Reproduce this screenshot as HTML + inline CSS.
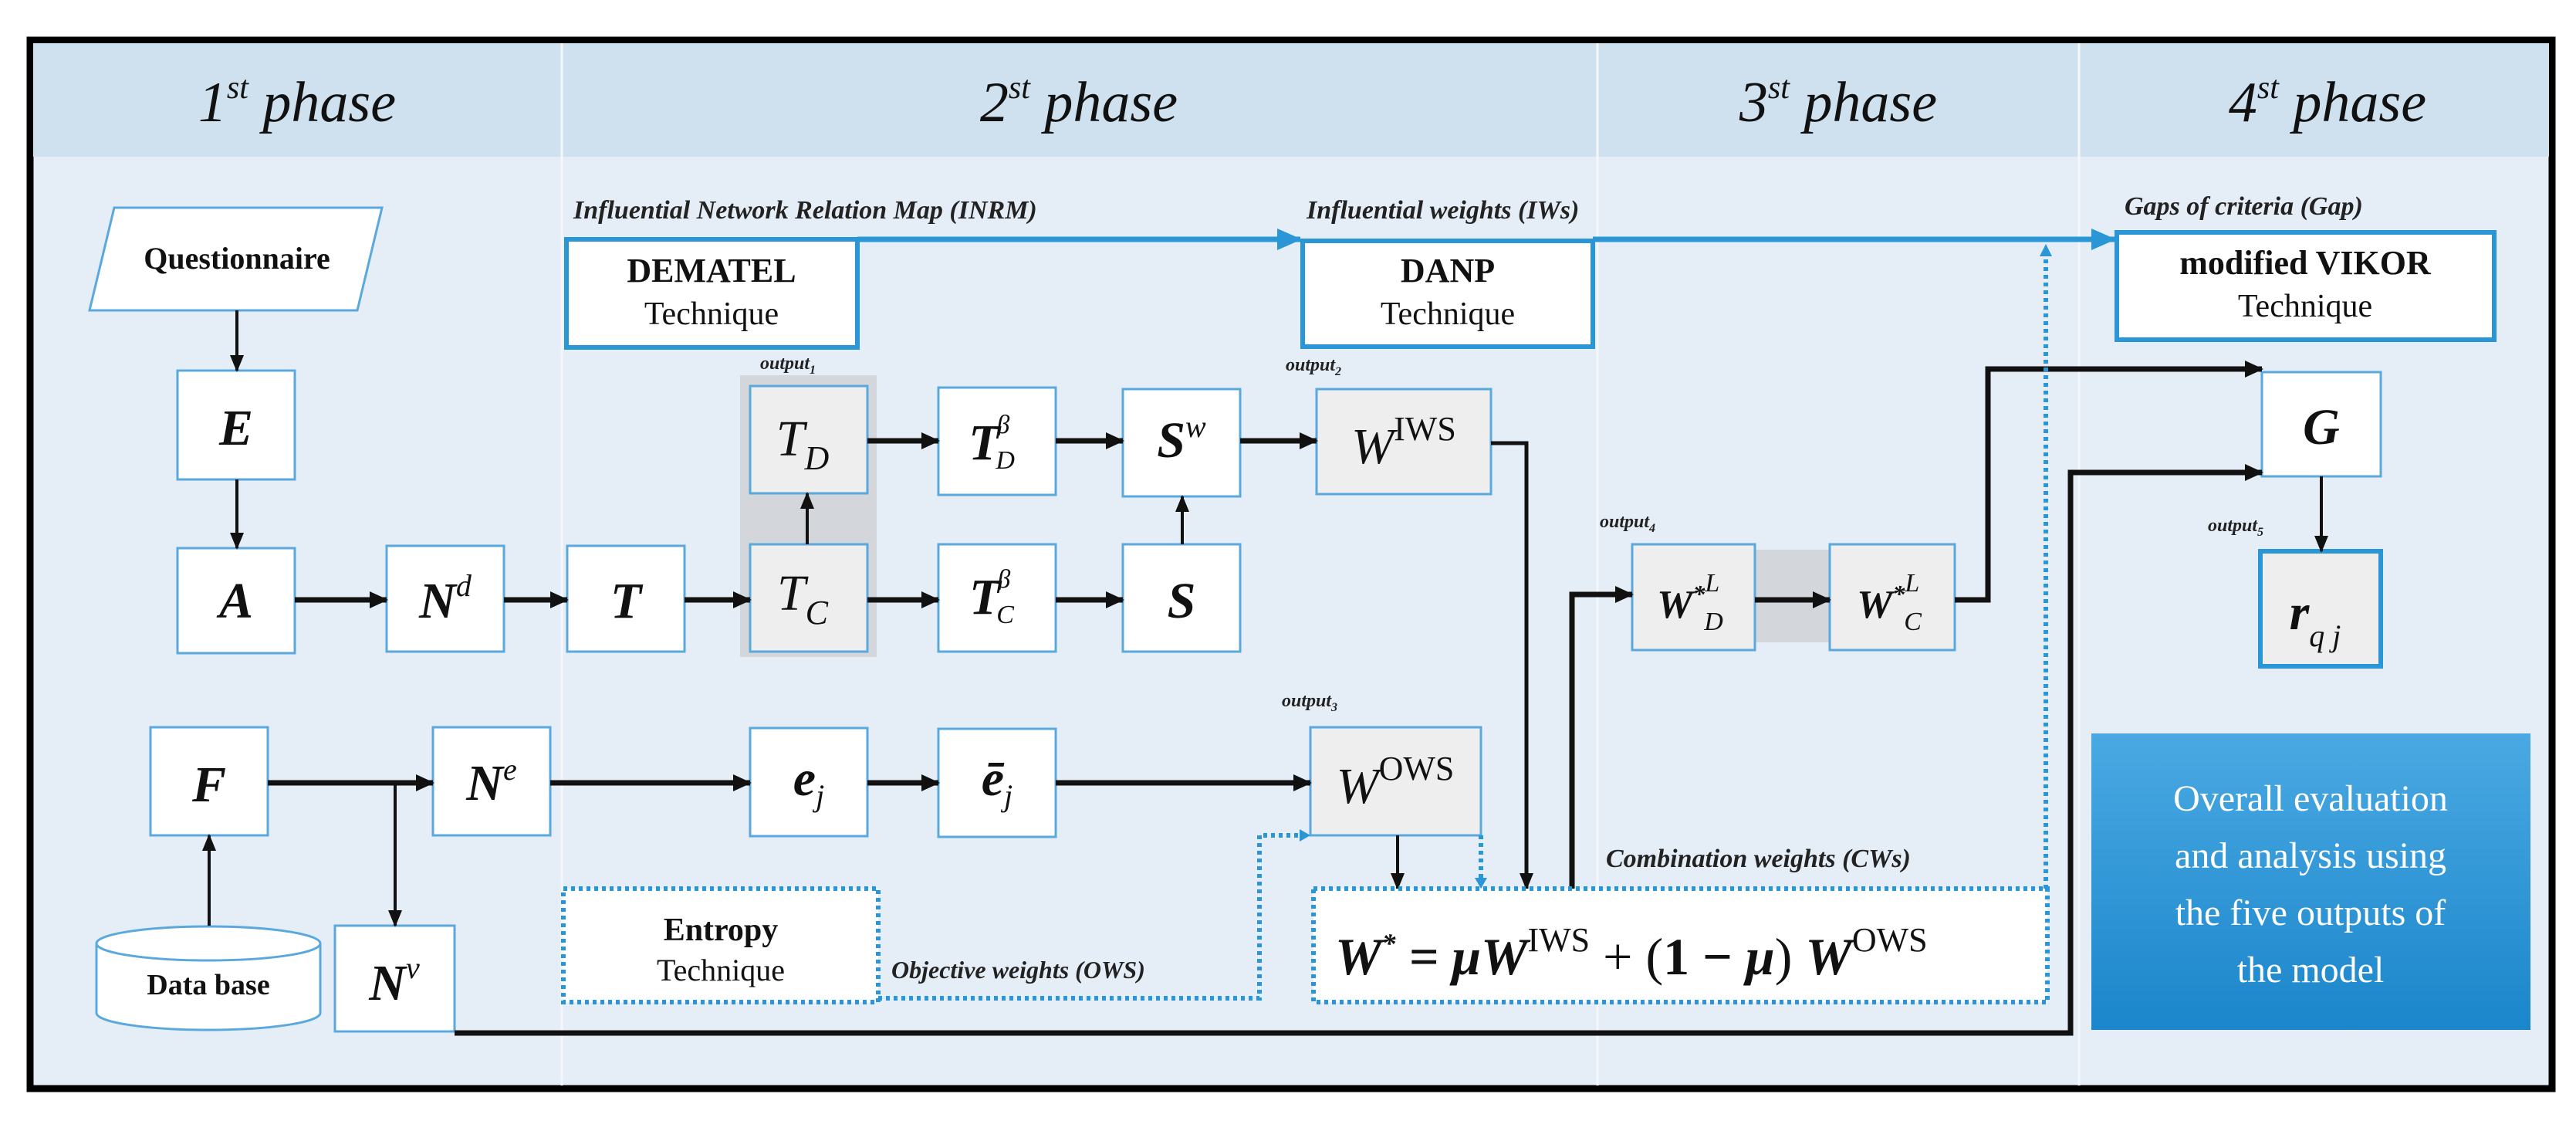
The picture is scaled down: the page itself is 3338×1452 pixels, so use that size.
<!DOCTYPE html>
<html><head><meta charset="utf-8"><style>
html,body{margin:0;padding:0;background:#fff;}
svg{display:block;}
text{font-family:"Liberation Serif",serif;}
.m{font-style:italic;font-weight:bold;fill:#111;}
.lab{font-style:italic;font-weight:bold;fill:#222;}
</style></head><body>
<svg width="3338" height="1452" viewBox="0 0 3338 1452" xmlns="http://www.w3.org/2000/svg">
<defs>
<marker id="ab" markerWidth="24" markerHeight="22" refX="22" refY="11" orient="auto" markerUnits="userSpaceOnUse"><path d="M0,0 L24,11 L0,22 Z" fill="#111"/></marker>
<marker id="ab2" markerWidth="22" markerHeight="22" refX="20" refY="11" orient="auto" markerUnits="userSpaceOnUse"><path d="M0,2 L22,11 L0,20 Z" fill="#111"/></marker>
<marker id="abl" markerWidth="32" markerHeight="28" refX="30" refY="14" orient="auto" markerUnits="userSpaceOnUse"><path d="M0,0 L32,14 L0,28 Z" fill="#2a96d6"/></marker>
<linearGradient id="bg" x1="0" y1="0" x2="0" y2="1"><stop offset="0" stop-color="#4aa9e2"/><stop offset="1" stop-color="#1b86cb"/></linearGradient>
</defs>
<rect x="0" y="0" width="3338" height="1452" fill="#fff"/>
<rect x="39" y="52" width="3268" height="1358" fill="#e5edf6" stroke="#000" stroke-width="9"/>
<rect x="43" y="56" width="3260" height="147" fill="#cfe0ee"/>
<line x1="728" y1="56" x2="728" y2="1406" stroke="#f4f7fb" stroke-width="3"/>
<line x1="2070" y1="56" x2="2070" y2="1406" stroke="#f4f7fb" stroke-width="3"/>
<line x1="2694" y1="56" x2="2694" y2="1406" stroke="#f4f7fb" stroke-width="3"/>
<g font-size="74" font-style="italic" fill="#111" text-anchor="middle">
<text x="385" y="157">1<tspan font-size="42" dy="-30">st</tspan><tspan dy="30"> phase</tspan></text>
<text x="1398" y="157">2<tspan font-size="42" dy="-30">st</tspan><tspan dy="30"> phase</tspan></text>
<text x="2382" y="157">3<tspan font-size="42" dy="-30">st</tspan><tspan dy="30"> phase</tspan></text>
<text x="3016" y="157">4<tspan font-size="42" dy="-30">st</tspan><tspan dy="30"> phase</tspan></text>
</g>
<g font-size="34" class="lab">
<text x="743" y="283">Influential Network Relation Map (INRM)</text>
<text x="1693" y="283">Influential weights (IWs)</text>
<text x="2753" y="278">Gaps of criteria (Gap)</text>
</g>
<line x1="1111" y1="310" x2="1685" y2="310" stroke="#2a96d6" stroke-width="7" marker-end="url(#abl)"/>
<line x1="2064" y1="310" x2="2740" y2="310" stroke="#2a96d6" stroke-width="7" marker-end="url(#abl)"/>
<g fill="#fff" stroke="#2a96d6" stroke-width="6">
<rect x="734" y="310" width="377" height="140"/>
<rect x="1688" y="312" width="376" height="137"/>
<rect x="2743" y="301" width="489" height="139"/>
</g>
<g text-anchor="middle" fill="#111">
<text x="922" y="365" font-size="44" font-weight="bold">DEMATEL</text>
<text x="922" y="420" font-size="42">Technique</text>
<text x="1876" y="365" font-size="44" font-weight="bold">DANP</text>
<text x="1876" y="420" font-size="42">Technique</text>
<text x="2987" y="355" font-size="44" font-weight="bold">modified VIKOR</text>
<text x="2987" y="410" font-size="42">Technique</text>
</g>
<polygon points="148,269 495,269 463,402 116,402" fill="#fff" stroke="#5aa8dc" stroke-width="3"/>
<text x="307" y="348" font-size="40" font-weight="bold" text-anchor="middle" fill="#111">Questionnaire</text>
<rect x="959" y="486" width="177" height="365" fill="#d3d6da"/>
<rect x="2274" y="712" width="97" height="120" fill="#d3d6da"/>
<g stroke="#5aa8dc" stroke-width="3">
<rect x="230" y="480" width="152" height="141" fill="#fff"/>
<rect x="230" y="710" width="152" height="136" fill="#fff"/>
<rect x="501" y="707" width="152" height="137" fill="#fff"/>
<rect x="735" y="707" width="152" height="137" fill="#fff"/>
<rect x="972" y="500" width="152" height="139" fill="#eeeeee"/>
<rect x="972" y="705" width="152" height="139" fill="#eeeeee"/>
<rect x="1216" y="502" width="152" height="139" fill="#fff"/>
<rect x="1216" y="705" width="152" height="139" fill="#fff"/>
<rect x="1455" y="504" width="152" height="139" fill="#fff"/>
<rect x="1455" y="705" width="152" height="139" fill="#fff"/>
<rect x="1706" y="504" width="226" height="136" fill="#eeeeee"/>
<rect x="195" y="942" width="152" height="140" fill="#fff"/>
<rect x="561" y="942" width="152" height="140" fill="#fff"/>
<rect x="972" y="943" width="152" height="140" fill="#fff"/>
<rect x="1216" y="944" width="152" height="140" fill="#fff"/>
<rect x="1698" y="942" width="221" height="140" fill="#eeeeee"/>
<rect x="434" y="1199" width="155" height="137" fill="#fff"/>
<rect x="2115" y="705" width="159" height="137" fill="#eeeeee"/>
<rect x="2371" y="705" width="162" height="137" fill="#eeeeee"/>
<rect x="2931" y="482" width="154" height="135" fill="#fff"/>
</g>
<rect x="2929" y="714" width="156" height="149" fill="#eeeeee" stroke="#2a96d6" stroke-width="6"/>
<path d="M125,1222 L125,1312 A145,22 0 0 0 415,1312 L415,1222" fill="#fff" stroke="#5aa8dc" stroke-width="3"/>
<ellipse cx="270" cy="1222" rx="145" ry="22" fill="#fff" stroke="#5aa8dc" stroke-width="3"/>
<text x="270" y="1288" font-size="38" font-weight="bold" text-anchor="middle" fill="#111">Data base</text>
<g class="m" font-size="66" text-anchor="middle">
<text x="306" y="576">E</text>
<text x="306" y="800">A</text>
<text x="577" y="800">N<tspan font-size="40" dy="-28" font-weight="normal">d</tspan></text>
<text x="811" y="800">T</text>
<text x="1040" y="590" font-weight="normal">T<tspan font-size="44" dy="18">D</tspan></text>
<text x="1040" y="790" font-weight="normal">T<tspan font-size="44" dy="18">C</tspan></text>
<text x="1285" y="595">T<tspan font-size="34" dy="-34" dx="-4" font-weight="normal">β</tspan><tspan font-size="34" dx="-18" dy="46" font-weight="normal">D</tspan></text>
<text x="1285" y="795">T<tspan font-size="34" dy="-34" dx="-4" font-weight="normal">β</tspan><tspan font-size="34" dx="-18" dy="46" font-weight="normal">C</tspan></text>
<text x="1531" y="592">S<tspan font-size="40" dy="-26" font-weight="normal">w</tspan></text>
<text x="1531" y="800">S</text>
<text x="1819" y="600" font-weight="normal">W<tspan font-size="44" dy="-30" font-style="normal">IWS</tspan></text>
<text x="271" y="1038">F</text>
<text x="637" y="1036">N<tspan font-size="40" dy="-26" font-weight="normal">e</tspan></text>
<text x="1048" y="1030">e<tspan font-size="40" dy="14" font-weight="normal">j</tspan></text>
<text x="1292" y="1030">ē<tspan font-size="40" dy="14" font-weight="normal">j</tspan></text>
<text x="1808" y="1040" font-weight="normal">W<tspan font-size="44" dy="-30" font-style="normal">OWS</tspan></text>
<text x="511" y="1295">N<tspan font-size="40" dy="-28" font-weight="normal">v</tspan></text>
<text x="2190" y="800" font-size="52">W<tspan font-size="32" dy="-20">*</tspan><tspan font-size="34" dy="-14" font-weight="normal">L</tspan><tspan font-size="34" dx="-20" dy="50" font-weight="normal">D</tspan></text>
<text x="2448" y="800" font-size="52">W<tspan font-size="32" dy="-20">*</tspan><tspan font-size="34" dy="-14" font-weight="normal">L</tspan><tspan font-size="34" dx="-20" dy="50" font-weight="normal">C</tspan></text>
<text x="3008" y="575">G</text>
<text x="3000" y="815">r<tspan font-size="40" dy="22" font-weight="normal">q j</tspan></text>
</g>
<g class="lab" font-size="24">
<text x="985" y="478">output<tspan font-size="16" dy="6">1</tspan></text>
<text x="1666" y="480">output<tspan font-size="16" dy="6">2</tspan></text>
<text x="1661" y="915">output<tspan font-size="16" dy="6">3</tspan></text>
<text x="2073" y="683">output<tspan font-size="16" dy="6">4</tspan></text>
<text x="2861" y="688">output<tspan font-size="16" dy="6">5</tspan></text>
</g>
<g stroke="#111" fill="none">
<line x1="307" y1="402" x2="307" y2="480" stroke-width="4" marker-end="url(#ab2)"/>
<line x1="307" y1="621" x2="307" y2="710" stroke-width="4" marker-end="url(#ab2)"/>
<g stroke-width="7">
<line x1="382" y1="777" x2="501" y2="777" marker-end="url(#ab)"/>
<line x1="653" y1="777" x2="735" y2="777" marker-end="url(#ab)"/>
<line x1="887" y1="777" x2="972" y2="777" marker-end="url(#ab)"/>
<line x1="1124" y1="777" x2="1216" y2="777" marker-end="url(#ab)"/>
<line x1="1368" y1="777" x2="1455" y2="777" marker-end="url(#ab)"/>
<line x1="1124" y1="571" x2="1216" y2="571" marker-end="url(#ab)"/>
<line x1="1368" y1="571" x2="1455" y2="571" marker-end="url(#ab)"/>
<line x1="1607" y1="571" x2="1706" y2="571" marker-end="url(#ab)"/>
<line x1="347" y1="1014" x2="561" y2="1014" marker-end="url(#ab)"/>
<line x1="713" y1="1014" x2="972" y2="1014" marker-end="url(#ab)"/>
<line x1="1124" y1="1014" x2="1216" y2="1014" marker-end="url(#ab)"/>
<line x1="1368" y1="1014" x2="1698" y2="1014" marker-end="url(#ab)"/>
<line x1="2274" y1="777" x2="2371" y2="777" marker-end="url(#ab)"/>
<polyline points="2533,777 2576,777 2576,478 2931,478" marker-end="url(#ab)"/>
<polyline points="589,1338 2683,1338 2683,612 2931,612" marker-end="url(#ab)"/>
<polyline points="2037,1151 2037,770 2115,770" marker-end="url(#ab)"/>
</g>
<line x1="1046" y1="705" x2="1046" y2="639" stroke-width="4" marker-end="url(#ab2)"/>
<line x1="1532" y1="705" x2="1532" y2="643" stroke-width="4" marker-end="url(#ab2)"/>
<polyline points="1932,574 1978,574 1978,1151" stroke-width="5" marker-end="url(#ab2)"/>
<line x1="1811" y1="1082" x2="1811" y2="1151" stroke-width="4" marker-end="url(#ab2)"/>
<line x1="512" y1="1014" x2="512" y2="1199" stroke-width="4" marker-end="url(#ab2)"/>
<line x1="271" y1="1199" x2="271" y2="1082" stroke-width="4" marker-end="url(#ab2)"/>
<line x1="3008" y1="617" x2="3008" y2="714" stroke-width="4" marker-end="url(#ab2)"/>
</g>
<g fill="none" stroke="#2a96d6" stroke-width="6" stroke-dasharray="5,5">
<rect x="730" y="1151" width="408" height="147" fill="#fff"/>
<polyline points="1138,1293 1632,1293 1632,1082 1690,1082"/>
<line x1="1919" y1="1082" x2="1919" y2="1145"/>
<line x1="2651" y1="1151" x2="2651" y2="330"/>
<rect x="1702" y="1151" width="951" height="147" fill="#fff"/>
</g>
<g fill="#2a96d6">
<path d="M1698,1082 L1684,1074 L1684,1090 Z"/>
<path d="M1919,1151 L1911,1137 L1927,1137 Z"/>
<path d="M2651,316 L2643,332 L2659,332 Z"/>
</g>
<g text-anchor="middle" fill="#111">
<text x="934" y="1218" font-size="42" font-weight="bold">Entropy</text>
<text x="934" y="1270" font-size="40">Technique</text>
</g>
<text x="1155" y="1267" class="lab" font-size="32">Objective weights (OWS)</text>
<text x="2081" y="1123" class="lab" font-size="34">Combination  weights (CWs)</text>
<text x="1730" y="1262" font-size="68" class="m">W<tspan font-size="36" dy="-28">*</tspan><tspan dy="28"> = μW</tspan><tspan font-size="44" dy="-30" font-weight="normal" font-style="normal">IWS</tspan><tspan dy="30" font-style="normal" font-weight="normal"> + (</tspan><tspan font-style="normal">1 − </tspan><tspan>μ</tspan><tspan font-style="normal" font-weight="normal">) </tspan><tspan>W</tspan><tspan font-size="44" dy="-30" font-weight="normal" font-style="normal">OWS</tspan></text>
<rect x="2710" y="950" width="569" height="384" fill="url(#bg)"/>
<g fill="#fff" font-size="48" text-anchor="middle">
<text x="2994" y="1050">Overall evaluation</text>
<text x="2994" y="1124">and analysis using</text>
<text x="2994" y="1198">the five outputs of</text>
<text x="2994" y="1272">the model</text>
</g>
</svg>
</body></html>
